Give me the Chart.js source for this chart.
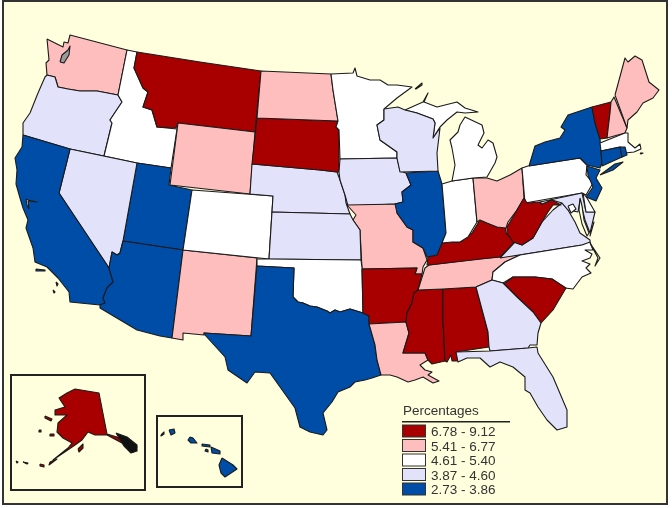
<!DOCTYPE html>
<html><head><meta charset="utf-8">
<style>html,body{margin:0;padding:0;background:#fff}canvas{display:block}</style>
<script src="https://cdn.jsdelivr.net/npm/chart.js@4"></script>
</head><body><canvas id="c" width="672" height="508" style="width:672px;height:508px"></canvas>
<script>
// Map outlines, [x, y] in map units (the y axis runs downward).
const WA=[[47,39],[57,44],[63,47],[64,42],[68,43],[70,35],[127,50],[118,95],[97,91],[80,91],[68,89],[58,87],[55,77],[47,75],[46,63],[49,60],[47,39]];
const OR=[[47,75],[55,77],[58,87],[68,89],[80,91],[97,91],[118,95],[122,102],[110,120],[112,123],[104,156],[70,149],[23,135],[23,123],[30,113],[38,93],[45,77],[47,75]];
const ID=[[127,50],[137,52],[134,68],[143,88],[148,92],[143,107],[152,110],[157,127],[177,129],[171,168],[137,163],[104,156],[112,123],[110,120],[122,102],[118,95],[127,50]];
const MT=[[137,52],[200,62],[261,71],[255,132],[178,123],[176,128],[157,127],[152,110],[143,107],[148,92],[143,88],[134,68],[137,52]];
const WY=[[178,123],[255,132],[250,194],[170,185],[178,123]];
const UT=[[137,163],[171,168],[169,185],[192,190],[183,250],[123,241],[137,163]];
const NV=[[70,149],[137,163],[123,241],[120,253],[117,255],[112,252],[109,268],[59,193],[70,149]];
const CA=[[23,135],[70,149],[59,193],[109,268],[113,282],[107,288],[103,298],[105,303],[100,305],[70,302],[69,292],[58,278],[47,267],[35,262],[33,248],[26,228],[28,220],[23,208],[20,198],[16,184],[17,170],[15,158],[22,147],[23,135]];
const AZ=[[123,241],[183,250],[172,338],[160,336],[137,330],[100,308],[100,305],[105,303],[103,298],[107,288],[113,282],[109,268],[112,252],[117,255],[120,253],[123,241]];
const NM=[[183,250],[257,258],[251,336],[204,333],[204,335],[183,333],[183,340],[172,338],[183,250]];
const CO=[[192,190],[273,196],[269,259],[183,250],[192,190]];
const NE=[[252,164],[320,170],[337,172],[340,180],[345,195],[346,203],[350,214],[272,212],[273,196],[250,194],[252,164]];
const SD=[[257,118],[338,121],[336,127],[339,130],[339,172],[337,172],[320,170],[252,164],[257,118]];
const ND=[[261,71],[331,74],[333,90],[338,121],[257,118],[261,71]];
const MN=[[331,74],[353,73],[355,68],[357,76],[370,80],[380,80],[388,85],[397,85],[412,87],[397,98],[384,109],[384,120],[377,125],[380,140],[397,152],[397,158],[340,159],[339,130],[336,127],[338,121],[333,90],[331,74]];
const IA=[[340,159],[397,158],[400,171],[406,173],[411,185],[402,192],[403,202],[395,204],[348,206],[345,195],[340,180],[339,172],[340,159]];
const MO=[[347,205],[399,204],[397,213],[407,227],[413,230],[413,242],[423,248],[427,260],[423,267],[422,274],[415,274],[417,268],[362,269],[360,230],[353,220],[356,215],[347,205]];
const KS=[[272,212],[350,214],[353,220],[360,230],[361,260],[269,259],[272,212]];
const OK=[[257,259],[269,259],[361,260],[362,268],[363,313],[350,309],[340,312],[335,310],[330,313],[327,311],[322,309],[317,307],[310,306],[303,303],[298,302],[293,297],[294,268],[257,266],[257,259]];
const TX=[[257,266],[294,268],[293,297],[298,302],[303,303],[310,306],[317,307],[322,309],[327,311],[330,313],[335,310],[340,312],[350,309],[363,313],[369,316],[369,324],[375,345],[377,360],[381,375],[372,378],[365,380],[355,382],[350,387],[338,392],[332,402],[323,413],[327,430],[323,435],[310,432],[300,427],[295,408],[280,387],[270,373],[255,372],[247,383],[228,370],[225,357],[205,335],[204,333],[251,336],[257,266]];
const AR=[[362,269],[417,268],[415,274],[422,274],[418,290],[414,293],[412,303],[407,313],[406,322],[369,324],[369,316],[363,313],[362,269]];
const LA=[[369,324],[406,322],[409,333],[403,353],[425,353],[428,360],[420,365],[425,370],[432,372],[428,375],[439,381],[433,383],[423,377],[415,380],[408,382],[397,377],[390,375],[381,375],[377,360],[375,345],[369,324]];
const MS=[[418,290],[443,289],[443,320],[445,361],[432,364],[428,360],[425,353],[403,353],[409,333],[406,322],[407,313],[412,303],[414,293],[418,290]];
const AL=[[443,289],[476,287],[488,332],[489,347],[456,352],[458,361],[452,361],[451,355],[447,362],[445,361],[443,320],[443,289]];
const TN=[[418,290],[425,268],[429,265],[478,259],[520,255],[505,262],[493,272],[492,280],[476,287],[443,289],[418,290]];
const KY=[[428,257],[437,255],[442,243],[452,242],[460,242],[472,233],[480,220],[487,223],[497,227],[505,225],[506,233],[515,242],[500,257],[490,258],[429,265],[427,265],[428,257]];
const IL=[[406,173],[438,171],[442,184],[445,220],[446,233],[442,243],[437,255],[427,257],[423,248],[413,242],[413,230],[407,227],[397,213],[395,204],[403,202],[402,192],[411,185],[406,173]];
const IN=[[442,184],[452,181],[473,178],[477,222],[468,237],[460,242],[452,242],[442,243],[446,233],[445,220],[442,184]];
const OH=[[473,178],[487,178],[497,181],[510,175],[522,168],[524,198],[517,210],[508,222],[506,228],[497,227],[487,223],[480,220],[477,222],[473,178]];
const MI_LOWER=[[452,181],[473,178],[487,177],[495,163],[497,157],[493,143],[488,140],[482,148],[478,145],[484,133],[482,125],[465,117],[460,125],[458,132],[450,140],[452,148],[455,165],[452,181]];
const MI_UPPER=[[405,110],[423,102],[428,93],[424,102],[437,107],[457,102],[465,108],[478,112],[465,113],[457,112],[447,120],[440,127],[433,138],[435,123],[433,119],[417,113],[405,110]];
const WI=[[384,109],[398,107],[405,110],[417,113],[433,119],[435,123],[433,138],[440,128],[437,153],[438,171],[400,172],[397,158],[397,152],[380,140],[377,125],[384,120],[384,109]];
const PA=[[522,168],[528,166],[580,158],[587,165],[586,175],[593,183],[586,195],[582,193],[525,203],[522,168]];
const NY=[[529,166],[535,146],[545,142],[560,138],[565,130],[561,127],[568,115],[592,107],[595,123],[600,139],[602,163],[600,168],[587,165],[580,158],[529,166]];
const LONG_ISLAND=[[600,175],[615,164],[623,162],[613,170],[600,175]];
const VT=[[592,107],[611,102],[610,113],[607,138],[600,139],[595,123],[592,107]];
const NH=[[611,102],[614,97],[627,128],[625,133],[607,138],[610,113],[611,102]];
const ME=[[615,95],[625,58],[628,62],[635,56],[642,60],[649,82],[659,90],[653,98],[643,103],[637,112],[628,120],[627,128],[615,95]];
const MA=[[600,143],[625,133],[628,133],[628,142],[635,148],[640,144],[641,149],[634,152],[625,153],[620,147],[601,151],[600,143]];
const CT=[[601,151],[620,147],[622,157],[602,166],[601,151]];
const RI=[[620,147],[625,147],[627,155],[622,157],[620,147]];
const NJ=[[587,166],[600,170],[596,178],[602,188],[596,201],[586,197],[593,187],[588,175],[587,166]];
const DE=[[583,193],[587,198],[595,212],[586,212],[583,193]];
const MD=[[540,202],[582,193],[586,212],[595,212],[590,233],[585,220],[580,200],[578,212],[568,210],[562,203],[552,200],[542,204],[540,202]];
const DC=[[568,206],[573,204],[576,209],[571,213],[568,206]];
const VA=[[500,258],[515,242],[522,245],[533,238],[542,222],[553,210],[562,203],[568,210],[575,222],[580,233],[590,240],[590,243],[582,245],[500,258]];
const VA_SHORE=[[592,228],[594,222],[590,236],[592,228]];
const WV=[[524,198],[527,203],[540,202],[542,204],[552,200],[561,205],[553,205],[548,212],[542,222],[533,238],[522,245],[513,242],[507,233],[507,227],[517,210],[524,198]];
const NC=[[520,255],[582,245],[590,242],[593,250],[585,250],[592,254],[590,258],[582,261],[590,264],[586,268],[591,273],[582,277],[573,289],[565,288],[552,279],[535,277],[513,277],[503,283],[492,280],[493,272],[505,262],[520,255]];
const NC_BANKS=[[590,243],[600,258],[595,266],[598,258],[590,243]];
const SC=[[504,284],[513,277],[535,277],[552,279],[566,288],[553,310],[541,323],[533,312],[517,297],[504,284]];
const GA=[[476,287],[492,280],[503,283],[504,284],[517,297],[533,312],[541,323],[538,333],[537,345],[530,345],[528,348],[490,351],[489,347],[488,332],[476,287]];
const FL=[[456,352],[490,351],[528,348],[537,347],[538,353],[553,377],[567,410],[567,427],[557,430],[547,420],[538,407],[530,393],[525,390],[525,377],[513,367],[500,362],[490,367],[480,358],[467,358],[458,362],[456,352]];
const AK=[[75,389],[99,393],[107,434],[117,437],[128,445],[137,447],[133,452],[122,443],[107,435],[95,435],[88,432],[82,440],[75,445],[53,460],[68,448],[72,443],[63,438],[57,432],[58,423],[67,415],[55,415],[55,410],[65,407],[59,398],[67,393],[75,389]];
const AK_PANHANDLE=[[116,433],[127,437],[137,445],[137,451],[131,453],[124,446],[116,433]];
const AK_KODIAK=[[78,449],[83,444],[83,448],[79,452],[78,449]];
const AK_LAWRENCE=[[45,416],[52,419],[51,421],[45,418],[45,416]];
const AK_NUNIVAK=[[50,434],[54,434],[54,436],[50,436],[50,434]];
const AK_STMATTHEW=[[39,430],[41,430],[41,432],[39,432],[39,430]];
const AK_ALEUT1=[[40,464],[44,465],[44,467],[40,466],[40,464]];
const AK_ALEUT2=[[50,462],[57,459],[49,465],[50,462]];
const AK_ALEUT3=[[23,462],[28,463],[27,464],[23,462]];
const AK_ALEUT4=[[16,461],[18,462],[17,463],[16,461]];
const HI_BIG=[[222,458],[233,465],[237,469],[225,477],[221,473],[219,465],[222,458]];
const HI_MAUI=[[211,447],[220,451],[220,454],[212,453],[211,447]];
const HI_LANAI=[[206,449],[208,450],[208,452],[205,451],[206,449]];
const HI_MOLOKAI=[[202,444],[210,445],[210,447],[202,446],[202,444]];
const HI_OAHU=[[190,437],[193,438],[197,443],[191,443],[188,440],[190,437]];
const HI_KAUAI=[[169,430],[174,429],[175,433],[171,435],[169,430]];
const HI_NIIHAU=[[161,435],[164,432],[164,434],[161,436],[161,435]];
const CA_ISLE1=[[36,269],[45,270],[45,271],[36,271],[36,269]];
const CA_ISLE2=[[56,282],[58,284],[57,286],[56,282]];
const CA_ISLE3=[[53,290],[55,292],[54,293],[53,290]];
const MA_ISLE=[[640,153],[643,153],[641,154],[640,153]];
const ISLE_ROYALE=[[415,89],[422,83],[422,85],[416,89],[415,89]];
const SF_BAY=[[26,199],[28,200],[37,202],[28,201],[29,209],[27,205],[26,199]];
const PUGET=[[60,62],[62,55],[68,50],[70,46],[69,55],[64,63],[60,62]];
const CHESAPEAKE=[[580,198],[582,206],[584,220],[589,233],[587,236],[582,224],[579,210],[580,198]];

const mapShapes=[WA,OR,ID,MT,WY,UT,NV,CA,AZ,NM,CO,NE,SD,ND,MN,IA,MO,KS,OK,TX,AR,LA,MS,AL,TN,KY,IL,IN,OH,MI_LOWER,MI_UPPER,WI,PA,NY,LONG_ISLAND,VT,NH,ME,MA,CT,RI,NJ,VA,WV,MD,DE,DC,VA_SHORE,NC,NC_BANKS,SC,GA,FL,AK,AK_PANHANDLE,AK_KODIAK,AK_LAWRENCE,AK_NUNIVAK,AK_STMATTHEW,AK_ALEUT1,AK_ALEUT2,AK_ALEUT3,AK_ALEUT4,HI_BIG,HI_MAUI,HI_LANAI,HI_MOLOKAI,HI_OAHU,HI_KAUAI,HI_NIIHAU,CA_ISLE1,CA_ISLE2,CA_ISLE3,MA_ISLE,ISLE_ROYALE,SF_BAY,PUGET,CHESAPEAKE];
const shapeNames=["Washington","Oregon","Idaho","Montana","Wyoming","Utah","Nevada","California","Arizona","New Mexico","Colorado","Nebraska","South Dakota","North Dakota","Minnesota","Iowa","Missouri","Kansas","Oklahoma","Texas","Arkansas","Louisiana","Mississippi","Alabama","Tennessee","Kentucky","Illinois","Indiana","Ohio","Michigan","Michigan","Wisconsin","Pennsylvania","New York","New York","Vermont","New Hampshire","Maine","Massachusetts","Connecticut","Rhode Island","New Jersey","Virginia","West Virginia","Maryland","Delaware","District of Columbia","Virginia","North Carolina","North Carolina","South Carolina","Georgia","Florida","Alaska","Alaska","Alaska","Alaska","Alaska","Alaska","Alaska","Alaska","Alaska","Alaska","Hawaii","Hawaii","Hawaii","Hawaii","Hawaii","Hawaii","Hawaii","California","California","California","Massachusetts","Michigan","San Francisco Bay","Puget Sound","Chesapeake Bay"];
// Class of each shape: 0 highest ... 4 lowest, 5 water, 6 sound, 7 dense islands.
const shapeClass=[1,3,2,0,1,4,3,4,4,1,2,3,0,1,2,3,1,3,2,4,0,1,0,0,1,0,4,2,1,2,2,3,2,4,4,0,1,1,2,4,4,4,3,0,3,2,2,3,2,5,0,3,3,0,7,0,0,0,0,0,0,0,0,4,4,4,4,4,4,4,4,4,4,4,2,5,6,5];
const legendTitle="Percentages";
const classLabels=["6.78 - 9.12","5.41 - 6.77","4.61 - 5.40","3.87 - 4.60","2.73 - 3.86"];
const classColors=["#A80000","#FFBEBE","#FFFFFF","#E2E3FB","#004DA8","#FFFFDD","#9A9A9A","#111111"];

const paper={id:'paper',
  beforeDraw(c){const g=c.ctx;g.save();
    g.fillStyle='#fff';g.fillRect(0,0,672,508);
    g.fillStyle=classColors[5];g.fillRect(3,1,664,503);
    g.strokeStyle='#333';g.lineWidth=2;g.strokeRect(3,1,664,503);
    g.restore();},
  afterDraw(c){const g=c.ctx;g.save();
    g.strokeStyle='#222';g.lineWidth=2;
    g.strokeRect(11,375,134,115);g.strokeRect(157,416,85,71);
    g.font='13.5px "Liberation Sans"';g.textBaseline='alphabetic';g.fillStyle='#333';
    g.fillText(legendTitle,403,415);
    g.fillStyle='#222';g.fillRect(402,421,108,1.5);
    classLabels.forEach((t,i)=>{const y=425+i*14.5;
      g.fillStyle=classColors[i];g.fillRect(402.5,y,23,12);
      g.strokeStyle='#333';g.lineWidth=1;g.strokeRect(402.5,y,23,12);
      g.fillStyle='#333';g.fillText(t,431,y+11);});
    g.restore();}
};
const datasets=mapShapes.map((s,i)=>({
  label:shapeNames[i],
  data:s.map(p=>({x:p[0],y:p[1]})),
  showLine:true,fill:'shape',tension:0,pointRadius:0,pointHoverRadius:0,
  backgroundColor:classColors[shapeClass[i]],borderColor:'#1a1a1a',borderWidth:1.1,borderJoinStyle:'round',clip:false
})).reverse();
new Chart(document.getElementById('c'),{type:'scatter',data:{datasets},plugins:[paper],options:{
  responsive:false,animation:false,devicePixelRatio:1,layout:{padding:0},events:[],
  plugins:{legend:{display:false},tooltip:{enabled:false},title:{display:false}},
  scales:{x:{type:'linear',min:0,max:672,display:false},y:{type:'linear',min:0,max:508,reverse:true,display:false}}
}});
</script></body></html>
